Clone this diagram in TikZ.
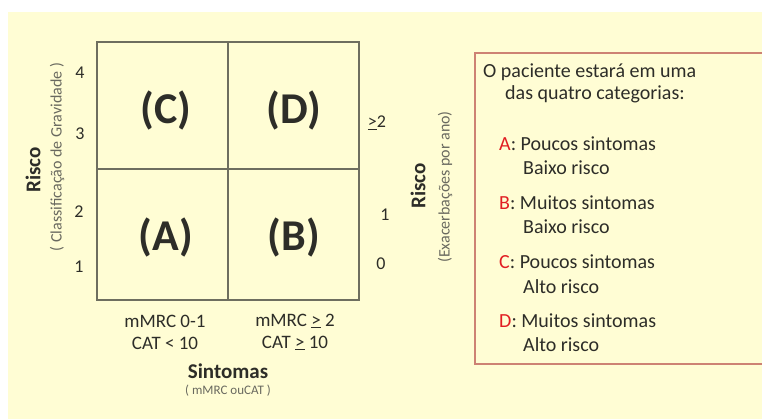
\documentclass[tikz,border=0pt]{standalone}
\usepackage{fontspec}
\setmainfont{Carlito}
\definecolor{cream}{RGB}{255,253,212}
\definecolor{gridc}{RGB}{110,110,95}
\definecolor{txt}{RGB}{45,45,40}
\definecolor{subc}{RGB}{105,105,95}
\definecolor{boxc}{RGB}{205,130,115}
\definecolor{redc}{RGB}{225,30,35}
\begin{document}
\begin{tikzpicture}[x=1pt,y=-1pt,
  txtstyle/.style={text=txt,inner sep=0pt},
  quad/.style={txtstyle,font=\fontsize{44}{48}\selectfont\bfseries},
  tick/.style={txtstyle,font=\fontsize{18}{21}\selectfont},
  botlab/.style={txtstyle,font=\fontsize{19}{22}\selectfont},
  axlab/.style={txtstyle,font=\fontsize{21}{24}\selectfont\bfseries},
  axsub/.style={inner sep=0pt,text=subc,font=\fontsize{16}{18}\selectfont},
  boxtxt/.style={txtstyle,anchor=west,font=\fontsize{20}{23}\selectfont}]
\useasboundingbox (0,0) rectangle (762,419);
\fill[white] (0,0) rectangle (762,419);
\fill[cream] (8,12) rectangle (762,419);
% grid
\draw[gridc,line width=1.3pt] (97,42) rectangle (359,300);
\draw[gridc,line width=1.3pt] (228,42) -- (228,300);
\draw[gridc,line width=1.3pt] (97,169) -- (359,169);
% quadrant labels
\node[quad] (C) at (166,111) {(C)};
\node[quad] (D) at (294,111) {(D)};
\node[quad] (A) at (166,238) {(A)};
\node[quad] (B) at (294,238) {(B)};
% left ticks
\node[tick] (l4) at (80,73) {4};
\node[tick] (l3) at (80,134) {3};
\node[tick] (l2) at (79,212) {2};
\node[tick] (l1) at (79,267) {1};
\node[axlab,rotate=90] (riscoL) at (33,170) {Risco};
\node[axsub,rotate=90] (classL) at (57,157) {( Classificação de Gravidade )};
% right ticks
\node[tick] (r2) at (377,123) {\underline{>}2};
\node[tick] (r1) at (385,215) {1};
\node[tick] (r0) at (381,264) {0};
\node[axlab,rotate=90] (riscoR) at (418,186) {Risco};
\node[axsub,rotate=90] (exacR) at (445,187) {(Exacerbações por ano)};
% bottom
\node[botlab] (b1) at (165,321) {mMRC 0-1};
\node[botlab] (b2) at (165,343) {CAT < 10};
\node[botlab] (b3) at (295,321) {mMRC \underline{>} 2};
\node[botlab] (b4) at (295,343) {CAT \underline{>} 10};
\node[axlab] (sint) at (228,371) {Sintomas};
\node[axsub,font=\fontsize{13}{15}\selectfont] (sub) at (228,391) {( mMRC ouCAT )};
% right box
\draw[boxc,line width=1.2pt,fill=cream] (765,53) -- (475,53) -- (475,364) -- (765,364);
\node[boxtxt] (t1) at (483,72) {O paciente estará em uma};
\node[boxtxt] (t2) at (505,94) {das quatro categorias:};
\node[boxtxt] (a1) at (499,144) {\textcolor{redc}{A}: Poucos sintomas};
\node[boxtxt] (a2) at (523,168) {Baixo risco};
\node[boxtxt] (bb1) at (499,203) {\textcolor{redc}{B}: Muitos sintomas};
\node[boxtxt] (bb2) at (523,227) {Baixo risco};
\node[boxtxt] (c1) at (499,262) {\textcolor{redc}{C}: Poucos sintomas};
\node[boxtxt] (c2) at (523,287) {Alto risco};
\node[boxtxt] (d1) at (499,321) {\textcolor{redc}{D}: Muitos sintomas};
\node[boxtxt] (d2) at (523,345) {Alto risco};
\end{tikzpicture}
\end{document}
